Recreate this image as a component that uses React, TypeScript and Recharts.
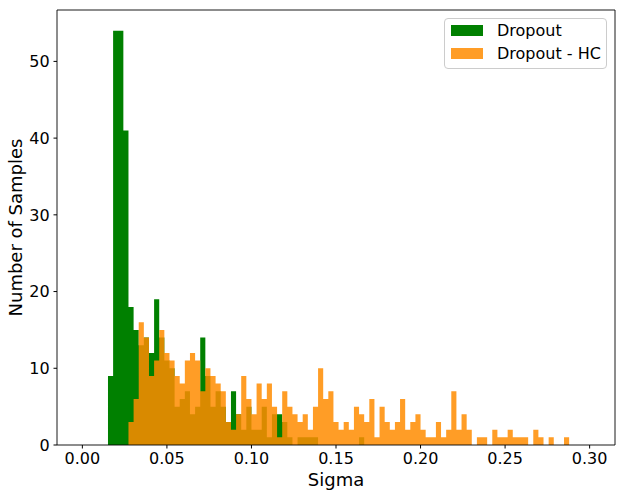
import { ComposedChart, Area, XAxis, YAxis, Legend, ReferenceArea, Label } from 'recharts'

// histogram bins: 99 equal bins between binStart and binEnd
const binStart = 0
const binEnd = 0.3

// counts per bin
const dropoutCounts = [
  0, 0, 0, 0, 0, 9, 54, 54, 41, 18,
  15, 13, 14, 12, 19, 14, 11, 10, 5, 6,
  7, 4, 5, 14, 9, 5, 7, 5, 3, 7,
  4, 2, 5, 2, 2, 5, 1, 4, 4, 3,
  1, 0, 1, 1, 1, 1, 0, 0, 0, 0,
  0, 0, 0, 0, 1, 0, 0, 0, 0, 0,
  0, 0, 0, 0, 0, 0, 0, 0, 0, 0,
  0, 0, 0, 0, 0, 0, 0, 0, 0, 0,
  0, 0, 0, 0, 0, 0, 0, 0, 0, 0,
  0, 0, 0, 0, 0, 0, 0, 0, 0,
]

const dropoutHcCounts = [
  0, 0, 0, 0, 0, 0, 0, 0, 0, 3,
  6, 16, 14, 9, 11, 15, 12, 11, 9, 8,
  11, 12, 11, 7, 10, 9, 8, 7, 3, 2,
  4, 9, 6, 4, 8, 6, 8, 5, 1, 7,
  5, 4, 3, 4, 2, 5, 10, 6, 7, 3,
  2, 3, 2, 5, 4, 3, 6, 1, 5, 3,
  2, 3, 6, 2, 3, 4, 2, 1, 1, 3,
  1, 2, 7, 2, 4, 2, 0, 1, 1, 0,
  2, 1, 1, 2, 1, 1, 1, 0, 2, 1,
  0, 1, 0, 0, 1, 0, 0, 0, 0,
]

const xTicks = [0, 0.05, 0.1, 0.15, 0.2, 0.25, 0.3]
const yTicks = [0, 10, 20, 30, 40, 50]
const seriesNames = ['Dropout', 'Dropout - HC']
const seriesColors = ['#008000', '#ff8c00']
const seriesOpacity = [1, 0.85]

// table for recharts: one row per bin edge, last edge closes the final step
const binWidth = (binEnd - binStart) / dropoutCounts.length
const data = dropoutCounts.map((v, i) => ({
  edge: binStart + i * binWidth,
  dropout: v,
  dropoutHc: dropoutHcCounts[i],
}))
data.push({ edge: binEnd, dropout: 0, dropoutHc: 0 })

const tickStyle = { fill: '#000', fontSize: 16 }

function HistLegend() {
  return (
    <div
      style={{
        boxSizing: 'border-box',
        width: 163,
        height: 51,
        border: '1px solid #cccccc',
        borderRadius: 4,
        background: 'rgba(255,255,255,0.8)',
        paddingLeft: 6,
      }}
    >
      {seriesNames.map((name, i) => (
        <div key={name} style={{ display: 'flex', alignItems: 'center', height: 23 }}>
          <span
            style={{
              display: 'inline-block',
              width: 32,
              height: 11,
              background: seriesColors[i],
              opacity: seriesOpacity[i],
            }}
          />
          <span style={{ marginLeft: 14, fontSize: 16, color: '#000', lineHeight: '23px' }}>{name}</span>
        </div>
      ))}
    </div>
  )
}

export default function App() {
  return (
    <div style={{ width: 625, height: 496, fontFamily: '"DejaVu Sans", sans-serif', position: 'relative' }}>
      <style>{'body { margin: 0; }'}</style>
      <ComposedChart width={625} height={496} data={data} margin={{ top: 10, right: 10, bottom: 0, left: 0 }}>
        <XAxis
          type="number"
          dataKey="edge"
          domain={[-0.015, 0.315]}
          ticks={xTicks}
          tickFormatter={(v: number) => v.toFixed(2)}
          allowDataOverflow
          height={51}
          axisLine={false}
          tickLine={{ stroke: '#000' }}
          tickSize={3.5}
          tickMargin={4.2}
          tick={tickStyle}
        >
          <Label value="Sigma" position="insideBottom" offset={10} style={{ fontSize: 18, fill: '#000' }} />
        </XAxis>
        <YAxis
          type="number"
          domain={[0, 56.7]}
          ticks={yTicks}
          allowDataOverflow
          width={57}
          axisLine={false}
          tickLine={{ stroke: '#000' }}
          tickSize={3.5}
          tickMargin={3.8}
          tick={tickStyle}
        >
          <Label
            value="Number of Samples"
            angle={-90}
            position="insideLeft"
            offset={15.5}
            style={{ fontSize: 18, fill: '#000', textAnchor: 'middle' }}
          />
        </YAxis>
        <Area
          type="stepAfter"
          dataKey="dropout"
          name={seriesNames[0]}
          baseValue={0}
          fill={seriesColors[0]}
          fillOpacity={seriesOpacity[0]}
          stroke="none"
          dot={false}
          activeDot={false}
          isAnimationActive={false}
        />
        <Area
          type="stepAfter"
          dataKey="dropoutHc"
          name={seriesNames[1]}
          baseValue={0}
          fill={seriesColors[1]}
          fillOpacity={seriesOpacity[1]}
          stroke="none"
          dot={false}
          activeDot={false}
          isAnimationActive={false}
        />
        <ReferenceArea x1={-0.015} x2={0.315} y1={0} y2={56.7} fill="none" stroke="#000" strokeWidth={0.9} />
        <Legend
          layout="vertical"
          align="center"
          verticalAlign="middle"
          content={() => <HistLegend />}
          wrapperStyle={{ top: 18, left: 444, width: 163, height: 51 }}
        />
      </ComposedChart>
    </div>
  )
}
